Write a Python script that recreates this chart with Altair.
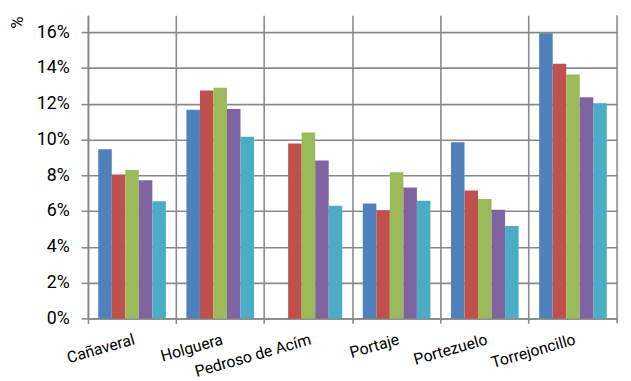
import altair as alt
import pandas as pd

categories = ["Cañaveral", "Holguera", "Pedroso de Acím", "Portaje", "Portezuelo", "Torrejoncillo"]
series = ["Serie 1", "Serie 2", "Serie 3", "Serie 4", "Serie 5"]
s1 = [9.45, 11.66, None, 6.42, 9.84, 15.94]
s2 = [8.04, 12.74, 9.78, 6.05, 7.15, 14.23]
s3 = [8.29, 12.89, 10.39, 8.17, 6.68, 13.63]
s4 = [7.72, 11.70, 8.83, 7.32, 6.07, 12.36]
s5 = [6.55, 10.15, 6.29, 6.57, 5.17, 12.03]
colors = ["#4F81BD", "#C0504D", "#9BBB59", "#8064A2", "#4BACC6"]
y_ticks = [0, 2, 4, 6, 8, 10, 12, 14, 16]

rows = []
for sname, vals in zip(series, [s1, s2, s3, s4, s5]):
    for c, v in zip(categories, vals):
        rows.append({"cat": c, "series": sname, "value": v})
df = pd.DataFrame(rows)

W, H = 536, 307
GRID = "#8a8a8a"
FONT = "Roboto"

bars = alt.Chart(df).mark_bar().encode(
    x=alt.X("cat:N", sort=categories,
            scale=alt.Scale(paddingInner=0, paddingOuter=0),
            axis=alt.Axis(title=None, bandPosition=0, grid=True, gridColor=GRID, gridWidth=1.6,
                          domainColor=GRID, domainWidth=1.6, tickColor=GRID, tickWidth=1.6, tickSize=5,
                          labelAngle=-16, labelAlign="right", labelBaseline="top",
                          labelPadding=8, labelFont=FONT, labelFontSize=16,
                          labelColor="#000000")),
    xOffset=alt.XOffset("series:N", sort=series,
                        scale=alt.Scale(paddingInner=0, paddingOuter=0.76)),
    y=alt.Y("value:Q", scale=alt.Scale(domain=[0, 16.94], nice=False),
            axis=alt.Axis(values=y_ticks, labelExpr="datum.value + '%'", grid=True,
                          gridColor=GRID, gridWidth=1.6, domainColor=GRID, domainWidth=1.6,
                          tickColor=GRID, tickWidth=1.6, tickSize=7, labelPadding=12,
                          labelFont=FONT, labelFontSize=18, labelColor="#000000",
                          title="%", titleFont=FONT, titleFontSize=17, titleFontWeight="normal",
                          titleAngle=270, titleX=-71, titleY=7, titleAlign="center",
                          titleBaseline="middle", titleColor="#000000")),
    color=alt.Color("series:N", scale=alt.Scale(domain=series, range=colors), legend=None),
)

edge = alt.Chart(alt.Data(values=[{}])).mark_rule(color=GRID, strokeWidth=1.6).encode(
    x=alt.value(W), y=alt.value(0), y2=alt.value(H + 5)
)

chart = alt.layer(bars, edge).properties(
    width=W, height=H,
    autosize=alt.AutoSizeParams(type="none"),
    padding={"left": 81, "top": 5, "right": 6, "bottom": 60},
).configure_view(stroke=None)

chart.save("out.html", embed_options={"renderer": "svg", "actions": False})
